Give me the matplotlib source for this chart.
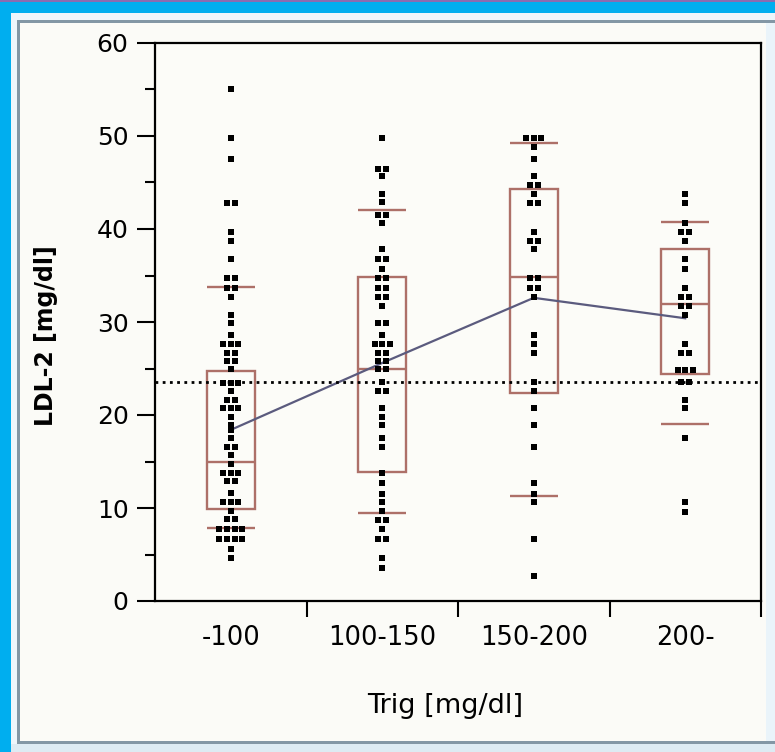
import numpy as np
import matplotlib
matplotlib.use('Agg')
import matplotlib.pyplot as plt
from matplotlib.patches import Rectangle
from collections import Counter

# LDL-2 by triglyceride class
groups = ['-100', '100-150', '150-200', '200-']

ldl_g1 = [55.0, 49.8, 47.5, 42.8, 42.8, 39.7, 38.7, 36.8, 34.7, 34.7, 33.7, 33.7,
          32.7, 30.8, 29.9, 28.6, 27.6, 27.6, 27.6, 26.7, 26.7, 25.8, 25.8, 24.9,
          23.4, 23.4, 23.4, 22.6, 21.6, 21.6, 20.7, 20.7, 20.7, 19.8, 18.9, 18.4,
          17.5, 16.6, 16.6, 15.7, 14.7, 13.8, 13.8, 13.8, 12.9, 12.9, 11.6, 10.6,
          10.6, 10.6, 9.7, 8.8, 8.8, 7.7, 7.7, 7.7, 7.7, 6.7, 6.7, 6.7, 6.7, 5.6, 4.6]
ldl_g2 = [49.8, 46.5, 46.5, 45.7, 43.8, 42.9, 41.5, 41.5, 40.6, 37.8, 36.8, 36.8,
          35.7, 34.7, 34.7, 33.7, 33.7, 32.7, 32.7, 31.7, 29.9, 29.9, 28.6, 27.6,
          27.6, 27.6, 26.7, 26.7, 25.8, 25.8, 24.9, 24.9, 23.5, 22.6, 22.6, 20.7,
          19.8, 18.9, 17.5, 16.6, 13.8, 12.7, 11.5, 10.6, 9.7, 8.7, 8.7, 7.7, 6.7,
          6.7, 4.6, 3.6]
ldl_g3 = [49.8, 49.8, 49.8, 48.8, 47.5, 45.7, 44.7, 44.7, 43.8, 42.8, 42.8, 39.7,
          38.7, 38.7, 37.8, 34.7, 34.7, 33.7, 33.7, 32.7, 28.6, 27.6, 26.7, 23.5,
          22.6, 20.7, 18.9, 16.6, 12.7, 11.5, 10.6, 6.7, 2.7]
ldl_g4 = [43.8, 42.8, 40.6, 39.7, 39.7, 38.7, 36.8, 35.7, 33.7, 32.7, 32.7, 31.7,
          31.7, 30.8, 27.6, 26.7, 26.7, 24.8, 24.8, 24.8, 23.5, 23.5, 21.6, 20.7,
          17.5, 10.6, 9.6]
ldl = [ldl_g1, ldl_g2, ldl_g3, ldl_g4]

# quantile boxes (10/25/50/75/90 %) and group means
q10 = [7.9, 9.5, 11.3, 19.0]
q25 = [9.9, 13.9, 22.4, 24.4]
q50 = [15.0, 25.0, 34.8, 31.9]
q75 = [24.7, 34.8, 44.3, 37.9]
q90 = [33.8, 42.0, 49.3, 40.8]
means = [18.4, 25.6, 32.6, 30.4]
grand_mean = 23.6

W, H = 775, 752
bg = '#FBFBF7'
box_col = '#ad7068'

fig = plt.figure(figsize=(W / 100, H / 100), dpi=100, facecolor=bg)


def frame_rect(x0, y0, x1, y1, color):
    # rectangle given in pixel coords from top-left
    fig.add_artist(Rectangle((x0 / W, 1 - y1 / H), (x1 - x0) / W, (y1 - y0) / H,
                             transform=fig.transFigure, color=color, lw=0, zorder=0))


# window frame
frame_rect(0, 0, W, 13, '#00AEEF')
frame_rect(0, 0, 11, H, '#00AEEF')
frame_rect(0, 0, W, 2, '#8a6cb0')
frame_rect(11, 13, W, 20, '#EEF6FB')
frame_rect(11, 13, 17, H, '#EEF6FB')
frame_rect(17, 20, 20, 744, '#8397A5')
frame_rect(17, 20, W, 23, '#8397A5')
frame_rect(17, 741, W, 744, '#8397A5')
frame_rect(11, 744, W, H, '#DDEBF3')
frame_rect(766, 23, W, 741, '#EAF4FA')

ax = fig.add_axes([155 / W, 1 - 601 / H, (761 - 155) / W, (601 - 43) / H])
ax.set_facecolor('#FCFCF8')

centers = np.arange(len(groups)) + 0.5
bw = 0.32

for c, vals, a, b, m, d, e in zip(centers, ldl, q10, q25, q50, q75, q90):
    ax.add_patch(Rectangle((c - bw / 2, b), bw, d - b, fill=False,
                           ec=box_col, lw=1.7, zorder=2))
    ax.hlines([a, m, e], c - bw / 2, c + bw / 2, color=box_col, lw=1.7, zorder=2)

    # side-by-side placement for repeated values
    cnt = Counter(vals)
    seen = {}
    xs = []
    for v in vals:
        k = seen.get(v, 0)
        seen[v] = k + 1
        xs.append(c + (k - (cnt[v] - 1) / 2) * 0.05)
    ax.plot(xs, vals, 's', color='black', ms=3.7, mew=0, zorder=4)

ax.plot(centers, means, color='#5b5b7e', lw=1.6, zorder=3)
ax.axhline(grand_mean, color='black', lw=2, ls=(0, (1, 1.6)), zorder=3)

ax.set_xlim(0, 4)
ax.set_ylim(0, 60)
ax.set_yticks(np.arange(0, 61, 10))
ax.set_yticks(np.arange(5, 60, 10), minor=True)
ax.set_xticks([1, 2, 3, 4])
ax.set_xticklabels([])
ax.set_xticks(centers, minor=True)
ax.set_xticklabels(groups, minor=True)

ax.tick_params(axis='y', which='major', length=13, width=1.5, pad=6,
               labelsize=18, colors='black')
ax.tick_params(axis='y', which='minor', length=7, width=1.5)
ax.tick_params(axis='x', which='major', length=11.5, width=1.5)
ax.tick_params(axis='x', which='minor', length=0, pad=17, labelsize=18.5)
for s in ax.spines.values():
    s.set_linewidth(1.6)

fig.text(445 / W, 1 - 706 / H, 'Trig [mg/dl]', ha='center', va='center', fontsize=19.5)
fig.text(46 / W, 1 - 336 / H, 'LDL-2 [mg/dl]', ha='center', va='center',
         rotation=90, fontsize=17, fontweight='bold')

fig.savefig('out.png', dpi=100, facecolor=bg)
